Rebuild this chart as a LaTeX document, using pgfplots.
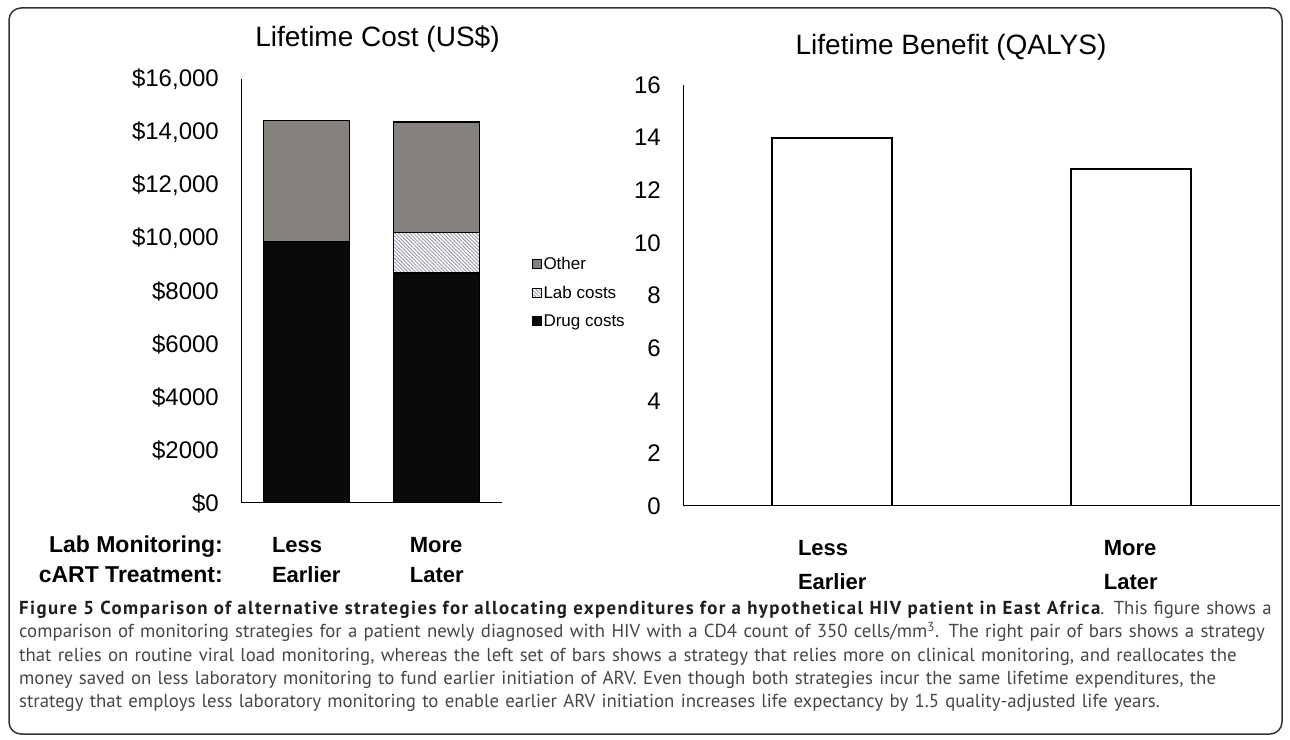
\documentclass[border=0pt]{standalone}
\usepackage{fontspec}
\setmainfont{Liberation Sans}
\newfontfamily\capfont{PT Sans}
\newfontfamily\capboldfont[LetterSpace=7.5]{PT Sans}
\usepackage{pgfplots}
\pgfplotsset{compat=1.18}
\usetikzlibrary{patterns.meta}

\definecolor{othergray}{RGB}{133,129,125}
\definecolor{drugblack}{RGB}{10,10,8}
\definecolor{hatchcol}{RGB}{150,150,170}
\definecolor{captxt}{RGB}{70,70,70}
\definecolor{capbold}{RGB}{30,30,30}

\begin{document}
\begin{tikzpicture}[x=1pt,y=1pt]
\useasboundingbox (0,0) rectangle (1290,739);
\draw[line width=1.5pt, draw=black!80, rounded corners=12pt] (9,5) rectangle (1282,731);

% left chart: lifetime cost
\begin{axis}[
    at={(241pt,236pt)}, anchor=south west,
    scale only axis, width=261pt, height=424pt,
    xmin=-0.5, xmax=1.5, ymin=0, ymax=16000,
    ybar stacked, bar width=0.66,
    axis x line*=bottom, axis y line*=left,
    axis line style={line width=1pt, -},
    major tick length=0pt,
    scaled y ticks=false,
    xtick={0,1}, xticklabels={{Less\\Earlier},{More\\Later}},
    xticklabel style={align=left, font=\bfseries\fontsize{22}{30}\selectfont, inner sep=0pt, yshift=-34pt},
    ytick={0,2000,4000,6000,8000,10000,12000,14000,16000},
    yticklabels={\$0,\$2000,\$4000,\$6000,\$8000,{\$10,000},{\$12,000},{\$14,000},{\$16,000}},
    yticklabel style={font=\fontsize{24}{28}\selectfont, inner sep=0pt, xshift=-22pt},
    legend style={at={(1,0.4965)}, anchor=west, xshift=30pt, draw=none, fill=none,
        font=\fontsize{17}{20}\selectfont, row sep=12pt, inner sep=0pt, nodes={inner sep=1.5pt}},
    legend cell align=left, reverse legend,
    legend image code/.code={\draw[#1, line width=0.8pt] (0pt,-4.5pt) rectangle (9pt,4.5pt);},
]
\addplot[fill=drugblack, draw=black, line width=1.2pt] coordinates {(0,9850) (1,8680)};
\addplot[fill=white, draw=black, line width=1.2pt,
    postaction={pattern={Lines[angle=-45,distance=2.6pt,line width=0.9pt]}, pattern color=hatchcol}]
    coordinates {(0,0) (1,1530)};
\addplot[fill=othergray, draw=black, line width=1.2pt] coordinates {(0,4580) (1,4170)};
\legend{Drug costs,Lab costs,Other}
\end{axis}

% right chart: lifetime benefit
\begin{axis}[
    at={(683pt,233pt)}, anchor=south west,
    scale only axis, width=597pt, height=421pt,
    xmin=-0.5, xmax=1.5, ymin=0, ymax=16,
    ybar, bar width=0.402,
    axis x line*=bottom, axis y line*=left,
    axis line style={line width=1pt, -},
    major tick length=0pt,
    xtick={0,1}, xticklabels={{Less\\Earlier},{More\\Later}},
    xticklabel style={align=left, font=\bfseries\fontsize{22}{34}\selectfont, inner sep=0pt, yshift=-34pt},
    ytick={0,2,...,16},
    /pgf/number format/assume math mode=true,
    yticklabel style={font=\fontsize{24}{28}\selectfont, inner sep=0pt, xshift=-22pt},
]
\addplot[fill=white, draw=black, line width=1.8pt] coordinates {(0,14.0) (1,12.8)};
\end{axis}

\node[anchor=base, font=\fontsize{28}{32}\selectfont] at (377.5,692) {Lifetime Cost (US\$)};
\node[anchor=base, font=\fontsize{28}{32}\selectfont] at (951,684) {Lifetime Benefit (QALYS)};
\node[anchor=base east, inner sep=0pt, font=\bfseries\fontsize{23}{26}\selectfont] at (223,186) {Lab Monitoring:};
\node[anchor=base east, inner sep=0pt, font=\bfseries\fontsize{23}{26}\selectfont] at (223,156) {cART Treatment:};

\node[anchor=north west, inner sep=0pt, text width=1262pt, align=left,
      font=\capfont\fontsize{18.8}{23.3}\selectfont, text=captxt] at (19,138) {%
{\capboldfont\bfseries\color{capbold}Figure 5 Comparison of alternative strategies for allocating expenditures for a hypothetical HIV patient in East Africa}. This figure shows a\\
comparison of monitoring strategies for a patient newly diagnosed with HIV with a CD4 count of 350 cells/mm\textsuperscript{3}. The right pair of bars shows a strategy\\
that relies on routine viral load monitoring, whereas the left set of bars shows a strategy that relies more on clinical monitoring, and reallocates the\\
money saved on less laboratory monitoring to fund earlier initiation of ARV. Even though both strategies incur the same lifetime expenditures, the\\
strategy that employs less laboratory monitoring to enable earlier ARV initiation increases life expectancy by 1.5 quality-adjusted life years.};
\end{tikzpicture}
\end{document}
